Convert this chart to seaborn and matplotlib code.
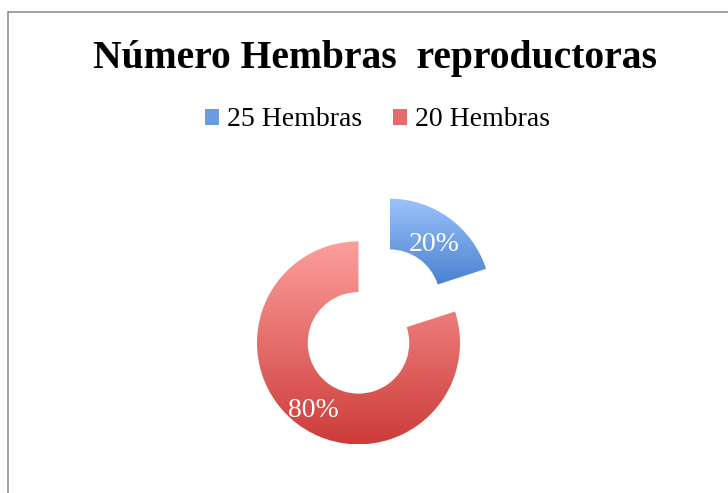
import matplotlib
matplotlib.use("Agg")
import matplotlib.pyplot as plt
import numpy as np
import seaborn as sns
from matplotlib.lines import Line2D
from matplotlib.patches import Patch

# data
categories = ["25 Hembras", "20 Hembras"]
shares = [20, 80]
title = "Número Hembras  reproductoras"

# gradient ends (top light, bottom dark)
grad_colors = [("#9cc2fa", "#3a77c9"), ("#fc9f9d", "#cd3c39")]

sns.set_style("white")
plt.rcParams["font.family"] = ["Liberation Serif", "DejaVu Serif"]
plt.rcParams["text.color"] = "black"

W, H = 728, 493
fig = plt.figure(figsize=(W / 100, H / 100), dpi=100)

# donut axes, 1 data unit = outer radius in pixels
r_px = 101.5
lim = 1.6
size = 2 * lim * r_px
cx, cy = 374, 321.5
ax = fig.add_axes([(cx - size / 2) / W, (H - cy - size / 2) / H, size / W, size / H])

wedges, _, autotexts = ax.pie(
    shares,
    explode=[0.26, 0.26],
    startangle=90,
    counterclock=False,
    radius=1,
    autopct="%1.0f%%",
    pctdistance=0.75,
    wedgeprops=dict(width=0.5, linewidth=0),
    textprops=dict(color="white", fontsize=20),
)

for w, (light, dark) in zip(wedges, grad_colors):
    cmap = sns.blend_palette([dark, light], 256, as_cmap=True)
    verts = w.get_patch_transform().transform(w.get_path().vertices)
    x0, y0 = verts.min(axis=0)
    x1, y1 = verts.max(axis=0)
    img = ax.imshow(
        np.linspace(0, 1, 256)[:, None],
        cmap=cmap,
        extent=[x0, x1, y0, y1],
        origin="lower",
        aspect="auto",
        zorder=w.get_zorder(),
    )
    img.set_clip_path(w)
    w.set_facecolor("none")

for t in autotexts:
    t.set_zorder(5)
    tx, ty = t.get_position()
    t.set_position((tx, ty - 0.06))

ax.set_xlim(-lim, lim)
ax.set_ylim(-lim, lim)
ax.axis("off")

# title and legend
fig.text(375 / W, 1 - 68 / H, title, ha="center", va="baseline",
         fontsize=28.5, fontweight="bold")

handles = [Patch(facecolor=sns.blend_palette([l, d], 3)[1], linewidth=0)
           for l, d in grad_colors]
fig.legend(handles, categories, loc="center", bbox_to_anchor=(377.5 / W, 1 - 120 / H),
           ncol=2, frameon=False, fontsize=20, handlelength=0.5, handleheight=0.5,
           handletextpad=0.3, columnspacing=1.1)

# chart frame (only left and top edges visible)
fig.add_artist(Line2D([8 / W, 8 / W], [0, 1 - 12 / H], transform=fig.transFigure,
                      color="#888888", linewidth=1.1))
fig.add_artist(Line2D([8 / W, 1], [1 - 12 / H, 1 - 12 / H], transform=fig.transFigure,
                      color="#888888", linewidth=1.1))

fig.savefig("out.png", dpi=100)
